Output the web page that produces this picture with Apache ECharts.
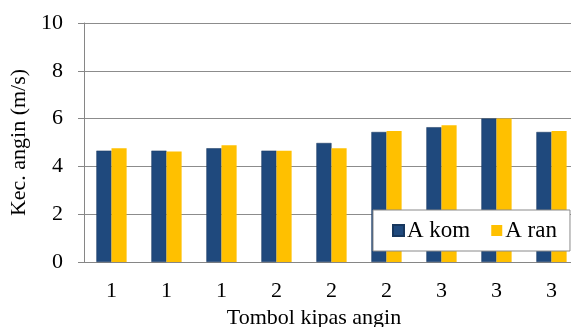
<!DOCTYPE html>
<html lang="id">
<head>
  <meta charset="UTF-8">
  <title>Kec. angin</title>
  <style>
    html, body { margin: 0; padding: 0; overflow: hidden; background: #fff; }
    #chart { width: 571px; height: 327px; }
  </style>
</head>
<body>
  <div id="chart"></div>
  <script src="https://cdn.jsdelivr.net/npm/echarts@6/dist/echarts.min.js"></script>
  <script>
    var categories = ['1', '1', '1', '2', '2', '2', '3', '3', '3'];
    var aKom = [4.66, 4.66, 4.76, 4.66, 4.98, 5.44, 5.64, 6.0, 5.44];
    var aRan = [4.76, 4.62, 4.88, 4.66, 4.76, 5.48, 5.72, 6.0, 5.48];

    var font = 'Liberation Serif';
    var chart = echarts.init(document.getElementById('chart'));

    chart.setOption({
      animation: false,
      textStyle: { fontFamily: font },
      grid: { left: 84, right: -8, top: 23, bottom: 65, containLabel: false, outerBoundsMode: 'none' },
      legend: {
        left: 373, top: 210,
        padding: [9, 13, 9, 19],
        backgroundColor: '#fff',
        borderColor: '#8a8a8a', borderWidth: 1,
        itemWidth: 11, itemHeight: 11, itemGap: 21,
        icon: 'rect',
        textStyle: { fontFamily: font, fontSize: 23, color: '#000', padding: [0, 0, 0, -2] },
        data: ['A kom', 'A ran']
      },
      xAxis: {
        type: 'category',
        data: categories,
        name: 'Tombol kipas angin',
        nameLocation: 'middle',
        nameGap: 42,
        nameTextStyle: { fontFamily: font, fontSize: 22, color: '#000', padding: [0, 35, 0, 0] },
        axisLine: { lineStyle: { color: '#868686' } },
        axisTick: { length: 7, lineStyle: { color: '#868686' } },
        axisLabel: { fontFamily: font, fontSize: 22, color: '#000', margin: 18 }
      },
      yAxis: {
        type: 'value',
        min: 0, max: 10, interval: 2,
        name: 'Kec. angin (m/s)',
        nameLocation: 'middle',
        nameGap: 47,
        nameTextStyle: { fontFamily: font, fontSize: 22, color: '#000' },
        axisLine: { show: true, lineStyle: { color: '#868686' } },
        axisTick: { show: true, length: 6, lineStyle: { color: '#868686' } },
        axisLabel: { fontFamily: font, fontSize: 22, color: '#000', margin: 21 },
        splitLine: { lineStyle: { color: '#8c8c8c' } }
      },
      series: [
        {
          name: 'A kom', type: 'bar', data: aKom,
          barGap: '0%', barCategoryGap: '45%',
          itemStyle: { color: '#1F497D', borderColor: '#17375E', borderWidth: 0.5 }
        },
        {
          name: 'A ran', type: 'bar', data: aRan,
          itemStyle: { color: '#FFC000' }
        }
      ]
    });
  </script>
</body>
</html>
